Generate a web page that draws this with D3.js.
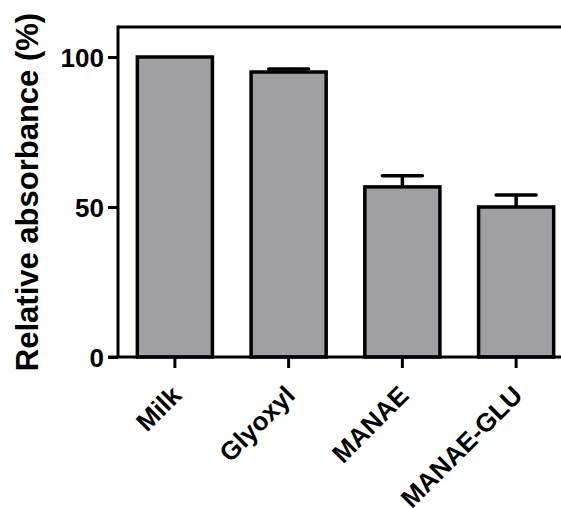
<!DOCTYPE html>
<html>
<head>
<meta charset="utf-8">
<script src="https://cdn.jsdelivr.net/npm/d3@7"></script>
<style>
  html, body { margin: 0; padding: 0; background: #fff; }
  svg { display: block; }
  text { font-family: "Liberation Sans", Arial, sans-serif; font-weight: bold; fill: #000; }
</style>
</head>
<body>
<svg id="chart" width="561" height="508"></svg>
<script>
// Sample groups and their relative absorbance (mean, upper SD)
const categories = ["Milk", "Glyoxyl", "MANAE", "MANAE-GLU"];
const values = [100, 95, 56.7, 50];
const errors = [0, 1, 3.7, 4];
const yTicks = [0, 50, 100];
const yTitle = "Relative absorbance (%)";

const svg = d3.select("#chart");
const plotLeft = 118, plotBottom = 357, plotTop = 27, plotRight = 573;

const x = d3.scaleBand()
  .domain(categories)
  .range([plotLeft, plotRight])
  .paddingInner(0.34)
  .paddingOuter(0.17);

const y = d3.scaleLinear().domain([0, 110]).range([plotBottom, plotTop]);

const fill = "#a09fa4";

// Bars
svg.append("g").selectAll("rect")
  .data(categories)
  .join("rect")
  .attr("x", d => x(d))
  .attr("y", (d, i) => y(values[i]))
  .attr("width", x.bandwidth())
  .attr("height", (d, i) => y(0) - y(values[i]))
  .attr("fill", fill)
  .attr("stroke", "#000")
  .attr("stroke-width", 3.5)
  .attr("stroke-linejoin", "miter");

// Upper error bars
const eb = svg.append("g").attr("stroke", "#000").attr("stroke-width", 3.5);
categories.forEach((c, i) => {
  if (!errors[i]) return;
  const cx = x(c) + x.bandwidth() / 2;
  const y0 = y(values[i]), y1 = y(values[i] + errors[i]);
  eb.append("line").attr("x1", cx).attr("x2", cx).attr("y1", y0).attr("y2", y1);
  eb.append("line").attr("x1", cx - 20).attr("x2", cx + 20).attr("y1", y1).attr("y2", y1)
    .attr("stroke-linecap", "round");
});

// Y axis
const yAxis = svg.append("g")
  .attr("transform", `translate(${plotLeft},0)`)
  .call(d3.axisLeft(y).tickValues(yTicks).tickSize(10).tickPadding(4).tickFormat(d3.format("d")));
yAxis.select(".domain").attr("stroke", "#000").attr("stroke-width", 3)
  .attr("d", `M0,${plotTop - 1.5}V${plotBottom}`);
yAxis.selectAll(".tick line").attr("stroke", "#000").attr("stroke-width", 3);
yAxis.selectAll(".tick text").attr("font-size", 26).attr("dy", "0.36em");

// X axis
const xAxis = svg.append("g")
  .attr("transform", `translate(0,${plotBottom})`)
  .call(d3.axisBottom(x).tickSize(11).tickPadding(0));
xAxis.select(".domain").attr("stroke", "#000").attr("stroke-width", 3)
  .attr("d", `M${plotLeft - 10},0H${plotRight}`);
xAxis.selectAll(".tick line").attr("stroke", "#000").attr("stroke-width", 3);
xAxis.selectAll(".tick text")
  .attr("font-size", 26)
  .attr("text-anchor", "end")
  .attr("dy", null)
  .attr("y", 0)
  .attr("transform", "translate(8,40) rotate(-45)");

// Top frame line
svg.append("line")
  .attr("x1", plotLeft).attr("x2", plotRight)
  .attr("y1", y(110)).attr("y2", y(110))
  .attr("stroke", "#000").attr("stroke-width", 3);

// Y axis title
svg.append("text")
  .attr("transform", `translate(38,${(12 + 372) / 2}) rotate(-90)`)
  .attr("text-anchor", "middle")
  .attr("font-size", 31)
  .text(yTitle);
</script>
</body>
</html>
